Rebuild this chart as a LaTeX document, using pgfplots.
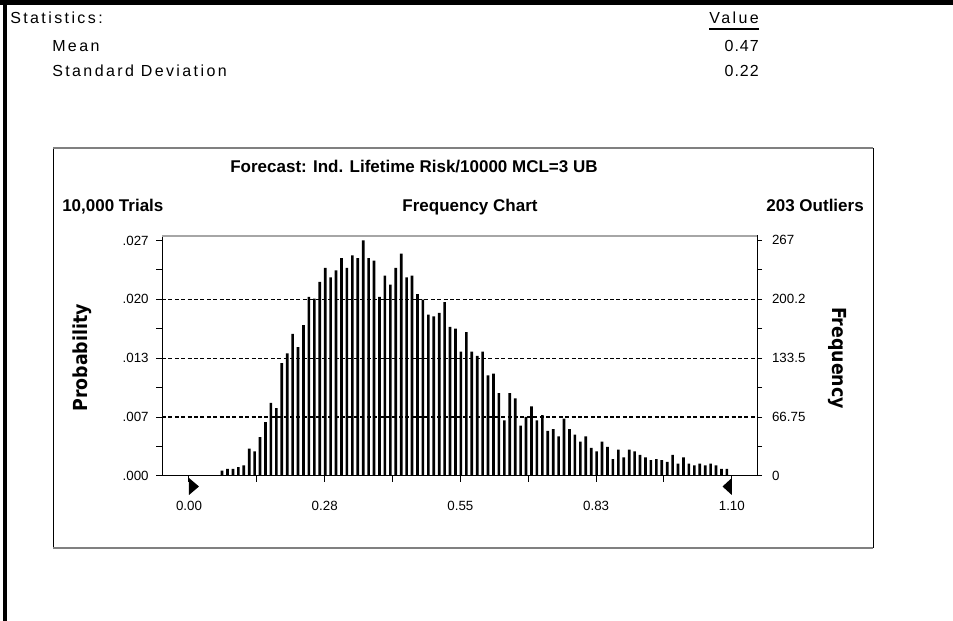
\documentclass[border=0pt]{standalone}
\usepackage{fontspec}
\setmainfont{Liberation Sans}
\newfontfamily\statfont[LetterSpace=15]{Liberation Sans}
\newfontfamily\numfont[LetterSpace=6]{Liberation Sans}
\newfontfamily\condfont{DejaVu Sans Condensed}
\usepackage{pgfplots}
\usepackage{pgfplotstable}
\pgfplotsset{compat=1.18}

% frequency per bin (10,000 trials, 203 outliers)
\pgfplotstableread{
x f
0.067 6
0.078 8
0.089 8
0.100 10
0.111 12
0.122 31
0.133 28
0.144 44
0.155 61
0.166 83
0.177 77
0.188 128
0.199 139
0.210 161
0.221 146
0.232 171
0.243 203
0.254 201
0.265 220
0.276 236
0.287 225
0.298 233
0.309 247
0.320 236
0.331 250
0.342 247
0.353 267
0.364 247
0.375 244
0.386 203
0.397 227
0.408 217
0.419 236
0.430 252
0.441 225
0.452 227
0.463 206
0.474 200
0.485 183
0.496 181
0.507 185
0.518 197
0.529 169
0.540 167
0.551 141
0.562 163
0.573 141
0.584 136
0.595 141
0.606 114
0.617 116
0.628 94
0.639 63
0.650 94
0.661 88
0.672 57
0.683 67
0.694 79
0.705 63
0.716 69
0.727 51
0.738 53
0.749 45
0.760 65
0.771 53
0.782 47
0.793 39
0.804 45
0.815 32
0.826 28
0.837 39
0.848 33
0.859 19
0.870 30
0.881 21
0.892 30
0.903 28
0.914 24
0.925 21
0.936 18
0.947 19
0.958 18
0.969 16
0.980 24
0.991 14
1.002 21
1.013 14
1.024 12
1.035 14
1.046 12
1.057 14
1.068 12
1.079 8
1.090 8
}\histdata

\begin{document}
\begin{tikzpicture}[x=0.75pt,y=0.75pt]
\path[use as bounding box] (0,0) rectangle (953,621);

% sheet borders
\fill[black] (0,616) rectangle (953,621);
\fill[black] (3,0) rectangle (7,621);

% statistics block
\begin{scope}[every node/.style={inner sep=0, font=\statfont\fontsize{12}{14}\selectfont}]
\node[anchor=base west] at (10,597) {Statistics:};
\node[anchor=base west] at (52,569) {Mean};
\node[anchor=base west] at (52,544) {Standard Deviation};
\node[anchor=base east] (v) at (759,597) {Value};
\end{scope}
\begin{scope}[every node/.style={inner sep=0, font=\numfont\fontsize{12}{14}\selectfont}]
\node[anchor=base east] at (759,569) {0.47};
\node[anchor=base east] at (759,544) {0.22};
\end{scope}
\draw[line width=1.5pt] ([yshift=-3.5pt]v.base west) -- ([yshift=-3.5pt]v.base east);

% chart frame
\draw[black, line width=0.75pt] (53,73) -- (53,473);
\draw[black, line width=0.75pt] (873,73) -- (873,473);
\draw[gray, line width=1.2pt] (53,473) -- (873,473);
\draw[gray, line width=2pt] (53,73) -- (873,73);

% titles
\begin{scope}[every node/.style={inner sep=0, font=\bfseries\fontsize{12.75}{15}\selectfont}]
\node[anchor=base] at (414,448) {Forecast: Ind. Lifetime Risk/10000 MCL=3 UB};
\node[anchor=base west] at (62,409) {10,000 Trials};
\node[anchor=base] at (470,409) {Frequency Chart};
\node[anchor=base east] at (864,409) {203 Outliers};
\end{scope}
\node[rotate=90, font=\condfont\bfseries\fontsize{14.5}{17}\selectfont] at (82,263) {Probability};
\node[rotate=-90, font=\condfont\bfseries\fontsize{14.5}{17}\selectfont] at (837,263) {Frequency};

\coordinate (axpos) at (162,145);

\begin{axis}[
  at={(axpos)}, anchor=south west,
  scale only axis, width=446.25pt, height=180pt,
  xmin=-0.0547, xmax=1.151, ymin=0, ymax=272,
  axis line style={black, line width=0.75pt},
  tick style={black, line width=0.75pt},
  tick align=outside,
  major tick length=4.5pt, minor tick length=4.5pt,
  xtick pos=bottom, ytick pos=left,
  xtick={0,0.275,0.55,0.825,1.1},
  xticklabels={0.00,0.28,0.55,0.83,1.10},
  minor xtick={0.1375,0.4125,0.6875,0.9625},
  ytick={66.75,133.5,200.25},
  yticklabels={.007,.013,.020},
  extra y ticks={0,267},
  extra y tick labels={.000,.027},
  extra y tick style={grid=none},
  minor ytick={33.375,100.125,166.875,233.625},
  ymajorgrids,
  major grid style={black, line width=1pt, dash pattern=on 3pt off 1.8pt},
  ticklabel style={font=\fontsize{10}{12}\selectfont},
  xticklabel shift=11pt,
  yticklabel shift=2pt,
  clip=false,
]
\addplot[ybar, bar width=2pt, fill=black, draw=none] table[x=x,y=f] {\histdata};
\draw[gray!70, line width=1.2pt] (rel axis cs:0,1) -- (rel axis cs:1,1);
\fill ([yshift=-1.5pt]axis cs:0,0) -- ([yshift=-14.25pt]axis cs:0,0)
  -- ([xshift=7.5pt,yshift=-7.875pt]axis cs:0,0) -- cycle;
\fill ([yshift=-1.5pt]axis cs:1.1,0) -- ([yshift=-14.25pt]axis cs:1.1,0)
  -- ([xshift=-7pt,yshift=-7.875pt]axis cs:1.1,0) -- cycle;
\end{axis}

\begin{axis}[
  at={(axpos)}, anchor=south west,
  scale only axis, width=446.25pt, height=180pt,
  xmin=-0.0547, xmax=1.151, ymin=0, ymax=272,
  axis x line=none, axis y line*=right,
  axis line style={black, line width=0.75pt},
  tick style={black, line width=0.75pt},
  tick align=outside,
  major tick length=3.75pt, minor tick length=3.75pt,
  ytick={0,66.75,133.5,200.25,267},
  yticklabels={0,66.75,133.5,200.2,267},
  minor ytick={33.375,100.125,166.875,233.625},
  ticklabel style={font=\fontsize{10}{12}\selectfont},
  yticklabel shift=4pt,
]
\end{axis}
\end{tikzpicture}
\end{document}
